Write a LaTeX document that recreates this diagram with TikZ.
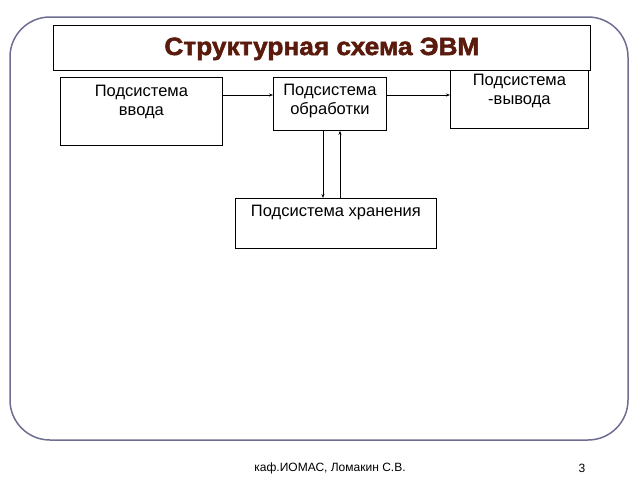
\documentclass[tikz,border=0pt]{standalone}
\usepackage{fontspec}
\setmainfont{Liberation Sans}
\newfontfamily\titlefont{Liberation Sans}[BoldFeatures={FakeBold=2}]
\usetikzlibrary{arrows.meta}
\definecolor{frame}{HTML}{6E6E92}
\definecolor{ttl}{HTML}{5A1A0C}
\tikzset{
  blk/.style={draw=black, line width=0.8pt, anchor=north west, inner sep=0pt},
  lbl/.style={font=\fontsize{16.5}{19}\selectfont, align=center, anchor=north},
  con/.style={-{Stealth[length=4pt,width=3pt]}, line width=0.6pt}
}
\begin{document}
\begin{tikzpicture}[x=1pt,y=-1pt]
\useasboundingbox (0,0) rectangle (638,479);
\draw[frame, line width=1.5pt, rounded corners=40pt] (10,17) rectangle (628,440);
\node[draw, line width=0.8pt, anchor=north west, minimum width=537pt, minimum height=45pt, inner sep=0pt] (title) at (53,25) {};
\node[text=ttl, font=\titlefont\fontsize{25}{28}\selectfont\bfseries, xscale=1.05] (ttext) at (title.center) [yshift=-1pt] {Структурная схема ЭВМ};
\node[blk, minimum width=162pt, minimum height=68pt] (in) at (60,77) {};
\node[lbl] (inl) at (in.north) [yshift=-5pt] {Подсистема\\ввода};
\node[blk, minimum width=113pt, minimum height=53pt] (proc) at (273,77) {};
\node[lbl] (procl) at (proc.north) [yshift=-4pt] {Подсистема\\обработки};
\node[blk, minimum width=138pt, minimum height=58pt] (out) at (450,70) {};
\node[lbl] (outl) at (out.north) [yshift=-1pt] {Подсистема\\-вывода};
\node[blk, minimum width=201pt, minimum height=50pt] (st) at (235,198) {};
\node[lbl] (stl) at (st.north) [yshift=-4pt] {Подсистема хранения};
\draw[con] (in.east |- 0,95) -- (proc.west |- 0,95);
\draw[con] (proc.east |- 0,95) -- (out.west |- 0,95);
\draw[con] (proc.south -| 323,0) -- (st.north -| 323,0);
\draw[con] (st.north -| 340,0) -- (proc.south -| 340,0);
\node[font=\fontsize{12}{14}\selectfont] (foot) at (330,468) {каф.ИОМАС, Ломакин С.В.};
\node[font=\fontsize{12}{14}\selectfont] (num) at (582,468) {3};
\end{tikzpicture}
\end{document}
